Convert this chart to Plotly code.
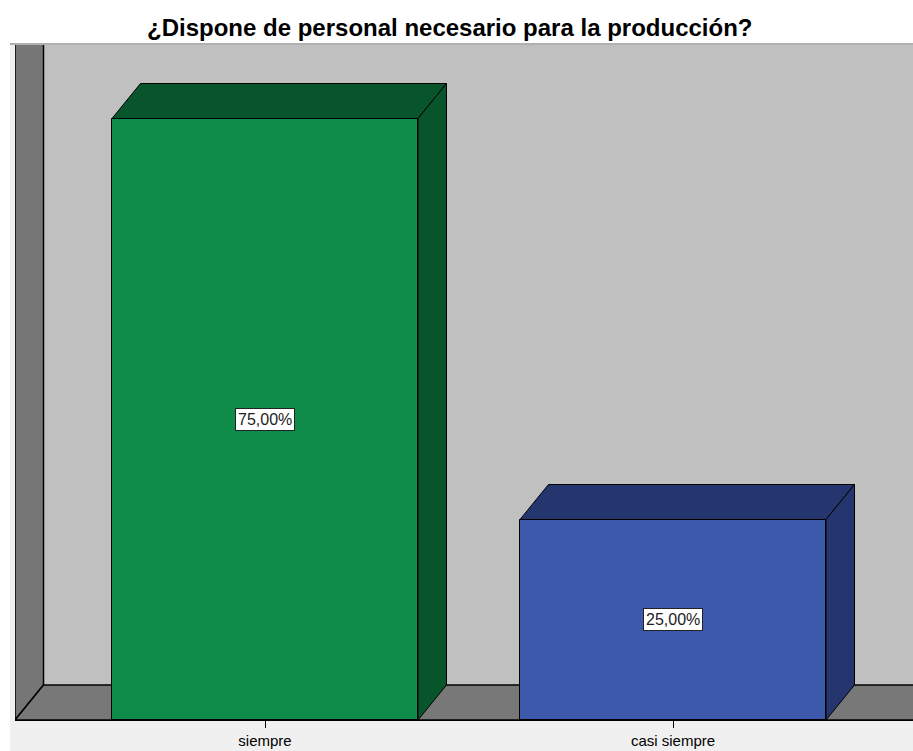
import plotly.graph_objects as go

# ---- data ----
categories = ["siempre", "casi siempre"]
values = [75.0, 25.0]
value_labels = ["75,00%", "25,00%"]
title_text = "¿Dispone de personal necesario para la producción?"

front_colors = ["#108c4a", "#3d59ab"]
dark_colors = ["#08552b", "#25356e"]

# ---- geometry (layout) ----
W, H = 913, 751
ML, MR, MT, MB = 15, 0, 44, 31
PW, PH = W - ML - MR, H - MT - MB
PX_PER_CAT = 408.0
PX_PER_PCT = 8.02
X0_PX = 265.0  # pixel of category 0
xmin = (ML - X0_PX) / PX_PER_CAT
xmax = (W - MR - X0_PX) / PX_PER_CAT
ymax = PH / PX_PER_PCT
bar_w = 0.75
dx = 28.5 / PX_PER_CAT
dy = 35.0 / PX_PER_PCT

def xp(px):
    return (px - ML) / PW

def yp(py):
    return (H - MB - py) / PH

fig = go.Figure()

xs = list(range(len(categories)))

# front faces
fig.add_trace(go.Bar(
    x=xs, y=values, width=bar_w,
    marker=dict(color=front_colors, line=dict(color="black", width=1)),
    hoverinfo="skip", showlegend=False,
))

# top and side faces
for i, v in enumerate(values):
    l, r = xs[i] - bar_w / 2, xs[i] + bar_w / 2
    fig.add_trace(go.Scatter(
        x=[l, l + dx, r + dx, r, l], y=[v, v + dy, v + dy, v, v],
        mode="lines", fill="toself", fillcolor=dark_colors[i],
        line=dict(color="black", width=1), hoverinfo="skip", showlegend=False,
    ))
    fig.add_trace(go.Scatter(
        x=[r, r + dx, r + dx, r, r], y=[0, dy, v + dy, v, 0],
        mode="lines", fill="toself", fillcolor=dark_colors[i],
        line=dict(color="black", width=1), hoverinfo="skip", showlegend=False,
    ))

shapes = []
# white areas outside the light panel
shapes.append(dict(type="rect", xref="paper", yref="paper", x0=xp(0), x1=xp(W), y0=1, y1=yp(0),
                   fillcolor="white", line=dict(width=0), layer="below"))
shapes.append(dict(type="rect", xref="paper", yref="paper", x0=xp(0), x1=xp(10), y0=yp(H), y1=1,
                   fillcolor="white", line=dict(width=0), layer="below"))
# left wall
xl = xmin
shapes.append(dict(type="path", xref="x", yref="y",
                   path=f"M {xl},0 L {xl},{ymax*2} L {xl+dx},{ymax*2} L {xl+dx},{dy} Z",
                   fillcolor="#767676", line=dict(color="black", width=1.5), layer="below"))
# floor
xr = xmax + 1
shapes.append(dict(type="path", xref="x", yref="y",
                   path=f"M {xl},0 L {xl+dx},{dy} L {xr},{dy} L {xr},0 Z",
                   fillcolor="#787878", line=dict(color="black", width=1.5), layer="below"))
# top border line of panel
shapes.append(dict(type="line", xref="paper", yref="paper", x0=xp(10), x1=1, y0=1, y1=1,
                   line=dict(color="#b0b0b0", width=2), layer="above"))

annotations = []
annotations.append(dict(text=f"<b>{title_text}</b>", xref="paper", yref="paper",
                        x=xp(449), y=yp(27), xanchor="center", yanchor="middle",
                        showarrow=False, font=dict(family="Liberation Sans, Arial", size=24, color="black")))
for i, v in enumerate(values):
    annotations.append(dict(text=value_labels[i], x=xs[i], y=v / 2, xref="x", yref="y",
                            showarrow=False, bgcolor="white", bordercolor="#222222", borderwidth=1,
                            borderpad=2, font=dict(family="Liberation Sans, Arial", size=16, color="#222222")))

fig.update_layout(
    width=W, height=H,
    margin=dict(l=ML, r=MR, t=MT, b=MB, pad=0),
    paper_bgcolor="#f0f0f0", plot_bgcolor="#c0c0c0",
    shapes=shapes, annotations=annotations,
    bargap=0,
    xaxis=dict(range=[xmin, xmax], tickvals=xs, ticktext=categories, showgrid=False, zeroline=False,
               showline=True, linecolor="black", linewidth=1, ticks="outside", ticklen=7,
               tickcolor="black", tickwidth=1,
               tickfont=dict(family="Liberation Sans, Arial", size=15, color="black"), fixedrange=True),
    yaxis=dict(range=[0, ymax], visible=False, showgrid=False, zeroline=False, fixedrange=True),
)

fig.write_html("out.html", config={"displayModeBar": False},
               post_script="document.body.style.margin='0';document.body.style.overflow='hidden';")
